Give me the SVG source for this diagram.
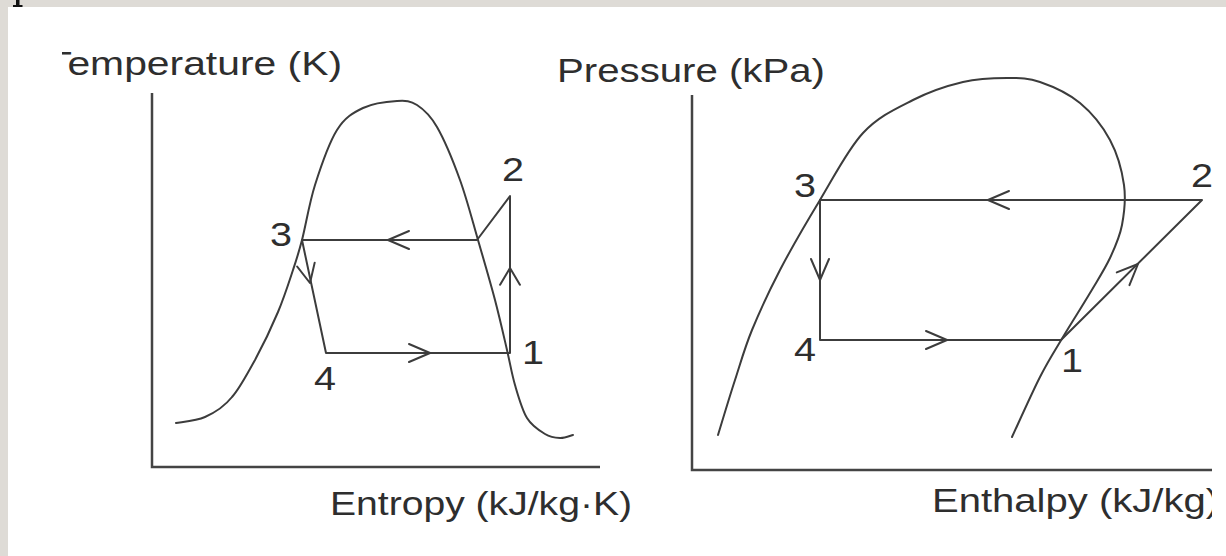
<svg xmlns="http://www.w3.org/2000/svg" xmlns:xlink="http://www.w3.org/1999/xlink" width="1226" height="556" viewBox="0 0 1226 556">
  <style>
    .ln { fill: none; stroke: #3c3c3c; stroke-width: 2; stroke-linecap: round; stroke-linejoin: round; }
    .ax { fill: none; stroke: #444; stroke-width: 2.5; }
    .lbl { font-family: "Liberation Sans", Arial, sans-serif; font-size: 34px; fill: #2e2e2e; }
  </style>
  <defs>
    <path id="chev" class="ln" d="M-21,-9 L0,0 L-21,9"/>
    <clipPath id="clipT"><rect x="62" y="0" width="400" height="120"/></clipPath>
    <clipPath id="clipR"><rect x="0" y="0" width="1212" height="556"/></clipPath>
  </defs>

  <rect x="0" y="0" width="1226" height="556" fill="#dedbd6"/>
  <rect x="8" y="7" width="1218" height="549" fill="#ffffff"/>
  <path d="M16,0 H19.5 V5 H22.5 V7 H13 V5 H16 Z" fill="#111"/>

  <!-- T-s diagram -->
  <g id="ts-diagram">
    <g id="ts-axes">
      <path class="ax" d="M152,93 V467 H600"/>
      <text class="lbl" x="47" y="75" textLength="295" lengthAdjust="spacingAndGlyphs" clip-path="url(#clipT)">Temperature (K)</text>
      <text class="lbl" x="330" y="515" textLength="302" lengthAdjust="spacingAndGlyphs">Entropy (kJ/kg·K)</text>
    </g>
    <g id="ts-dome">
      <path class="ln" d="M176,423 C181,422 196,421 205,417 C214,413 224,407 232,397 C240,388 247,374 255,360 C262.7,345.8 271.7,327 278,312 C284.3,297 289,282 293,270 C297,258 298.3,254.2 302,240 C305.7,225.8 309.2,203.3 315,185 C320.8,166.7 329,142.8 337,130 C345,117.2 353,112.8 363,108 C373,103.2 388,101.5 397,101 C406,100.5 410.3,100.7 417,105 C423.7,109.3 429.8,114.5 437,127 C444.2,139.5 453.2,161.2 460,180 C466.8,198.8 472.2,220 478,240 C483.8,260 490.2,281.7 495,300 C499.8,318.3 503.7,335.8 507,350 C510.3,364.2 511.7,373.7 515,385 C518.3,396.3 522,409.8 527,418 C532,426.2 539.5,430.7 545,434 C550.5,437.3 555.3,437.8 560,438 C564.7,438.2 570.8,435.5 573,435"/>
    </g>
    <g id="ts-connectors">
      <path class="ln" d="M302,240 H477 L510,196 V353 H326 Z"/>
      <use xlink:href="#chev" transform="translate(388,240) rotate(180)"/>
      <use xlink:href="#chev" transform="translate(510,268) rotate(-90) scale(0.8,1.1)"/>
      <use xlink:href="#chev" transform="translate(430,353)"/>
      <use xlink:href="#chev" transform="translate(310,283) rotate(77.5) scale(0.9,1)"/>
    </g>
    <g id="ts-labels">
      <text class="lbl" x="270" y="246" textLength="22" lengthAdjust="spacingAndGlyphs">3</text>
      <text class="lbl" x="502" y="181" textLength="22" lengthAdjust="spacingAndGlyphs">2</text>
      <text class="lbl" x="522" y="364" textLength="22" lengthAdjust="spacingAndGlyphs">1</text>
      <text class="lbl" x="314" y="390" textLength="22" lengthAdjust="spacingAndGlyphs">4</text>
    </g>
  </g>

  <!-- P-h diagram -->
  <g id="ph-diagram" clip-path="url(#clipR)">
    <g id="ph-axes">
      <path class="ax" d="M692,95 V470 H1226"/>
      <text class="lbl" x="557" y="82" textLength="268" lengthAdjust="spacingAndGlyphs">Pressure (kPa)</text>
      <text class="lbl" x="932" y="512" textLength="287" lengthAdjust="spacingAndGlyphs">Enthalpy (kJ/kg)</text>
    </g>
    <g id="ph-dome">
      <path class="ln" d="M718,435 C720.8,425.8 729.3,397.5 735,380 C740.7,362.5 744.5,348.3 752,330 C759.5,311.7 768.7,291.7 780,270 C791.3,248.3 806.2,222.8 820,200 C833.8,177.2 847.5,149.7 863,133 C878.5,116.3 896.3,108.5 913,100 C929.7,91.5 947.3,85.7 963,82 C978.7,78.3 994.2,78 1007,78 C1019.8,78 1027.8,77.8 1040,82 C1052.2,86.2 1068.3,93.3 1080,103 C1091.7,112.7 1102.7,126.3 1110,140 C1117.3,153.7 1122,170.8 1124,185 C1126,199.2 1124.3,212.8 1122,225 C1119.7,237.2 1115.3,246.7 1110,258 C1104.7,269.3 1097.8,279.8 1090,293 C1082.2,306.2 1071.3,323 1063,337 C1054.7,351 1048.5,360.3 1040,377 C1031.5,393.7 1016.7,427 1012,437"/>
    </g>
    <g id="ph-connectors">
      <path class="ln" d="M820,200 H1202 L1061,340 H820 Z"/>
      <use xlink:href="#chev" transform="translate(988,200) rotate(180)"/>
      <use xlink:href="#chev" transform="translate(820,280) rotate(90)"/>
      <use xlink:href="#chev" transform="translate(947,340)"/>
      <use xlink:href="#chev" transform="translate(1138,264) rotate(-44.8)"/>
    </g>
    <g id="ph-labels">
      <text class="lbl" x="794" y="197" textLength="22" lengthAdjust="spacingAndGlyphs">3</text>
      <text class="lbl" x="1191" y="187" textLength="22" lengthAdjust="spacingAndGlyphs">2</text>
      <text class="lbl" x="794" y="361" textLength="22" lengthAdjust="spacingAndGlyphs">4</text>
      <text class="lbl" x="1061" y="372" textLength="22" lengthAdjust="spacingAndGlyphs">1</text>
    </g>
  </g>
</svg>
